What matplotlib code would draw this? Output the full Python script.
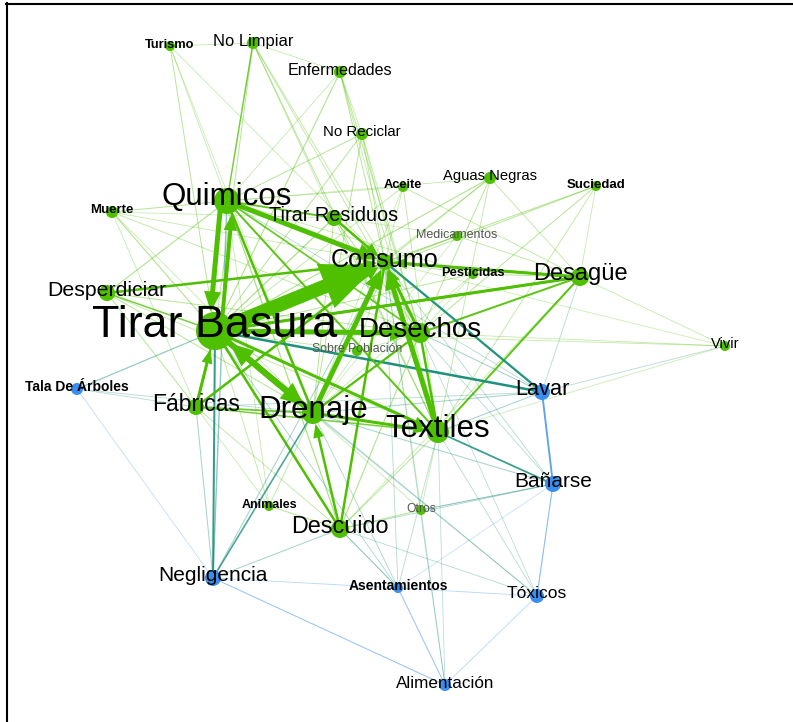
import matplotlib
matplotlib.use("Agg")
import matplotlib.pyplot as plt
import numpy as np

# ---------------- data ----------------
node_names = ["Turismo", "No Limpiar", "Enfermedades", "No Reciclar", "Aceite", "Aguas Negras",
              "Suciedad", "Medicamentos", "Quimicos", "Tirar Residuos", "Muerte", "Consumo",
              "Pesticidas", "Desagüe", "Desperdiciar", "Tirar Basura", "Desechos", "Sobre Población",
              "Vivir", "Tala De Árboles", "Lavar", "Fábricas", "Drenaje", "Textiles", "Bañarse",
              "Animales", "Otros", "Descuido", "Negligencia", "Asentamientos", "Tóxicos", "Alimentación"]
node_x = [170, 253, 340, 362, 403, 490, 596, 457, 227, 334, 112, 385, 473, 580, 107, 215, 420, 357,
          725, 77, 542, 196, 313, 438, 553, 269, 421, 340, 213, 398, 537, 445]
node_y = [46, 43, 72, 134, 187, 178, 186, 236, 201, 218, 212, 262, 274, 277, 293, 331, 333, 351,
          346, 389, 392, 407, 413, 432, 484, 506, 510, 529, 578, 588, 596, 685]
node_radius = [5, 6, 6, 6, 5, 6, 5, 5, 13, 8, 6, 8, 5, 9, 8, 19, 10, 5,
               5, 6, 8, 8, 11, 11, 8, 5, 5, 9, 8, 5, 7, 6]
node_group = ["g", "g", "g", "g", "g", "g", "g", "g", "g", "g", "g", "g", "g", "g", "g", "g", "g", "g",
              "g", "b", "b", "g", "g", "g", "b", "g", "g", "g", "b", "b", "b", "b"]
label_size = [9.3, 11.9, 11.6, 10.8, 9.2, 10.6, 9.5, 9, 22.5, 14.3, 9.5, 18.2, 9.3, 17, 15.3, 32.3, 20, 8.8,
              10.5, 10, 15.7, 16.5, 22.5, 22.5, 15, 9, 8.7, 16.8, 15, 10, 12.5, 12.3]
label_bold = [True, False, False, False, True, False, True, False, False, False, True, False,
              True, False, False, False, False, False, False, True, False, False, False, False,
              False, True, False, False, False, True, False, False]
label_gray = ["Medicamentos", "Sobre Población", "Otros"]

edge_source = [
    # strong (arrowed) links
    "Tirar Basura", "Quimicos", "Tirar Basura", "Quimicos", "Tirar Basura", "Drenaje", "Drenaje",
    "Textiles", "Tirar Basura", "Fábricas", "Desechos", "Desagüe", "Desagüe", "Tirar Basura",
    "Fábricas", "Desperdiciar", "Drenaje", "Descuido", "Descuido", "Quimicos", "Textiles",
    "Desechos", "Tirar Residuos", "Desechos", "Lavar", "Lavar", "Descuido",
    # weaker links
    "Turismo", "Turismo", "Turismo", "Turismo", "Turismo",
    "No Limpiar", "No Limpiar", "No Limpiar", "No Limpiar", "No Limpiar", "No Limpiar", "No Limpiar",
    "Enfermedades", "Enfermedades", "Enfermedades", "Enfermedades", "Enfermedades", "Enfermedades",
    "No Reciclar", "No Reciclar", "No Reciclar", "No Reciclar", "No Reciclar", "No Reciclar",
    "Aceite", "Aceite", "Aceite", "Aceite", "Aceite", "Aceite",
    "Aguas Negras", "Aguas Negras", "Aguas Negras", "Aguas Negras", "Aguas Negras", "Aguas Negras", "Aguas Negras",
    "Suciedad", "Suciedad", "Suciedad", "Suciedad", "Suciedad",
    "Medicamentos", "Medicamentos", "Medicamentos", "Medicamentos", "Medicamentos",
    "Muerte", "Muerte", "Muerte", "Muerte", "Muerte", "Muerte", "Muerte",
    "Desperdiciar", "Desperdiciar", "Desperdiciar", "Desperdiciar", "Desperdiciar", "Desperdiciar",
    "Tirar Residuos", "Tirar Residuos", "Tirar Residuos", "Tirar Residuos", "Tirar Residuos",
    "Pesticidas", "Pesticidas", "Pesticidas", "Pesticidas", "Pesticidas", "Pesticidas",
    "Vivir", "Vivir", "Vivir", "Vivir", "Vivir", "Vivir",
    "Sobre Población", "Sobre Población", "Sobre Población", "Sobre Población",
    "Tala De Árboles", "Tala De Árboles", "Tala De Árboles", "Tala De Árboles",
    "Lavar", "Lavar", "Lavar", "Lavar", "Lavar", "Lavar", "Lavar",
    "Bañarse", "Bañarse", "Bañarse", "Bañarse", "Bañarse", "Bañarse", "Bañarse", "Bañarse", "Bañarse",
    "Animales", "Animales", "Animales", "Animales", "Animales",
    "Otros", "Otros", "Otros", "Otros", "Otros", "Otros",
    "Descuido", "Descuido", "Descuido", "Descuido", "Descuido", "Descuido", "Descuido", "Descuido",
    "Negligencia", "Negligencia", "Negligencia", "Negligencia", "Negligencia", "Negligencia", "Negligencia",
    "Asentamientos", "Asentamientos", "Asentamientos", "Asentamientos", "Asentamientos", "Asentamientos", "Asentamientos",
    "Tóxicos", "Tóxicos", "Tóxicos", "Tóxicos", "Tóxicos", "Tóxicos",
    "Alimentación", "Alimentación", "Alimentación",
    "Quimicos", "Quimicos", "Consumo", "Tirar Basura", "Fábricas", "Fábricas", "Drenaje", "Desechos",
    "Tirar Basura", "Quimicos", "Consumo",
]
edge_target = [
    "Consumo", "Tirar Basura", "Quimicos", "Consumo", "Drenaje", "Tirar Basura", "Consumo",
    "Consumo", "Desechos", "Tirar Basura", "Consumo", "Consumo", "Tirar Basura", "Textiles",
    "Consumo", "Consumo", "Textiles", "Drenaje", "Consumo", "Drenaje", "Desagüe",
    "Desagüe", "Consumo", "Textiles", "Tirar Basura", "Consumo", "Tirar Basura",
    # weaker links
    "No Limpiar", "Tirar Basura", "Consumo", "Quimicos", "Drenaje",
    "Quimicos", "Tirar Basura", "Textiles", "Enfermedades", "Desechos", "Tirar Residuos", "Consumo",
    "Tirar Basura", "Consumo", "Desechos", "Textiles", "Quimicos", "No Reciclar",
    "Quimicos", "Tirar Basura", "Desechos", "Drenaje", "Consumo", "Textiles",
    "Tirar Basura", "Desagüe", "Quimicos", "Drenaje", "Textiles", "Consumo",
    "Tirar Basura", "Consumo", "Desechos", "Desagüe", "Textiles", "Fábricas", "Quimicos",
    "Tirar Basura", "Desechos", "Textiles", "Consumo", "Desagüe",
    "Tirar Basura", "Consumo", "Desagüe", "Quimicos", "Drenaje",
    "Quimicos", "Tirar Basura", "Desechos", "Fábricas", "Drenaje", "Consumo", "Tirar Residuos",
    "Tirar Basura", "Quimicos", "Desechos", "Drenaje", "Fábricas", "Textiles",
    "Tirar Basura", "Quimicos", "Drenaje", "Textiles", "Desechos",
    "Tirar Basura", "Consumo", "Desagüe", "Quimicos", "Drenaje", "Desechos",
    "Desagüe", "Desechos", "Lavar", "Tirar Basura", "Textiles", "Consumo",
    "Tirar Basura", "Consumo", "Desechos", "Drenaje",
    "Tirar Basura", "Fábricas", "Negligencia", "Drenaje",
    "Bañarse", "Textiles", "Drenaje", "Desechos", "Quimicos", "Fábricas", "Desagüe",
    "Textiles", "Tóxicos", "Drenaje", "Descuido", "Otros", "Tirar Basura", "Consumo", "Desechos", "Asentamientos",
    "Descuido", "Tirar Basura", "Drenaje", "Quimicos", "Fábricas",
    "Descuido", "Bañarse", "Consumo", "Textiles", "Drenaje", "Alimentación",
    "Quimicos", "Desechos", "Negligencia", "Asentamientos", "Textiles", "Fábricas", "Desagüe", "Tóxicos",
    "Tirar Basura", "Quimicos", "Drenaje", "Consumo", "Asentamientos", "Alimentación", "Fábricas",
    "Tóxicos", "Alimentación", "Tirar Basura", "Drenaje", "Consumo", "Textiles", "Descuido",
    "Bañarse", "Alimentación", "Tirar Basura", "Drenaje", "Textiles", "Desechos",
    "Negligencia", "Consumo", "Textiles",
    "Desechos", "Textiles", "Desechos", "Fábricas", "Drenaje", "Textiles", "Desechos", "Drenaje",
    "Desagüe", "Tirar Residuos", "Desagüe",
]
edge_weight = [
    14, 5, 4, 5, 6, 6, 5,
    5, 5, 3, 3, 3, 3, 3,
    2.5, 2.5, 3, 2.5, 2, 2, 1.6,
    1.6, 2.5, 2, 2, 1.8, 2,
    # weaker links
    0.6, 0.8, 0.6, 0.6, 0.5,
    1.2, 0.8, 0.8, 0.6, 0.7, 0.6, 0.7,
    0.9, 0.8, 0.8, 0.7, 0.6, 0.6,
    0.8, 0.8, 0.7, 0.8, 0.7, 0.6,
    0.7, 0.7, 0.6, 0.6, 0.7, 0.6,
    0.9, 0.8, 0.8, 0.7, 0.7, 0.6, 0.6,
    0.8, 0.8, 0.7, 0.8, 0.6,
    0.7, 0.6, 0.7, 0.5, 0.5,
    0.8, 0.9, 0.7, 0.6, 0.6, 0.6, 0.5,
    1.2, 0.9, 0.8, 0.8, 0.8, 0.7,
    1.0, 1.0, 0.8, 0.8, 0.8,
    0.8, 0.8, 0.8, 0.6, 0.6, 0.6,
    0.6, 0.6, 0.6, 0.6, 0.5, 0.5,
    0.7, 0.7, 0.6, 0.6,
    1.0, 0.6, 0.6, 0.6,
    1.5, 0.8, 0.8, 0.8, 0.6, 0.6, 0.6,
    1.4, 0.8, 0.8, 0.7, 0.6, 0.7, 0.6, 0.6, 0.5,
    0.8, 0.7, 0.7, 0.6, 0.6,
    0.8, 0.7, 0.6, 0.6, 0.6, 0.5,
    1.0, 0.9, 0.8, 0.7, 0.8, 0.7, 0.6, 0.6,
    1.6, 1.1, 1.3, 0.8, 0.7, 0.7, 0.8,
    0.7, 1.0, 0.7, 0.7, 0.6, 0.6, 0.6,
    0.8, 0.7, 0.7, 0.6, 0.6, 0.5,
    0.7, 0.6, 0.5,
    1.4, 1.6, 1.6, 1.8, 1.4, 1.2, 1.4, 1.6,
    1.8, 1.4, 1.8,
]
parallel_pairs = [("Quimicos", "Tirar Basura")]

# ---------------- drawing ----------------
GREEN = np.array([78, 192, 0]) / 255
BLUE = np.array([58, 142, 240]) / 255
TEAL = np.array([30, 145, 125]) / 255
LBLUE = np.array([70, 150, 235]) / 255

idx = {n: i for i, n in enumerate(node_names)}

fig = plt.figure(figsize=(7.93, 7.22), dpi=100)
ax = fig.add_axes([0, 0, 1, 1])
ax.set_xlim(0, 793)
ax.set_ylim(722, 0)
ax.axis("off")

def edge_color(a, b):
    ga, gb = node_group[idx[a]], node_group[idx[b]]
    if ga == "g" and gb == "g":
        return GREEN
    if ga == "b" and gb == "b":
        return LBLUE
    return TEAL

for s, t, w in zip(edge_source, edge_target, edge_weight):
    i, j = idx[s], idx[t]
    p0 = np.array([node_x[i], node_y[i]], float)
    p1 = np.array([node_x[j], node_y[j]], float)
    d = p1 - p0
    L = np.hypot(*d)
    u = d / L
    perp = np.array([-u[1], u[0]])
    off = 0.0
    if (s, t) in parallel_pairs or (t, s) in parallel_pairs:
        off = 6.0
    p0o = p0 + perp * off
    p1o = p1 + perp * off
    col = edge_color(s, t)
    if w >= 2.5:
        start = p0o
        end = p1o - u * node_radius[j]
        dd = end - start
        hw = max(3.4 * w, 11)
        hl = max(4.0 * w, 14)
        ax.arrow(start[0], start[1], dd[0], dd[1], width=w, head_width=hw, head_length=hl,
                 length_includes_head=True, color=col, lw=0, zorder=2)
    else:
        if w >= 1.2:
            alpha = min(1.0, 0.35 + 0.35 * w)
        else:
            alpha = 0.12 + 0.35 * w
        ax.plot([p0o[0], p1o[0]], [p0o[1], p1o[1]], color=col, alpha=alpha,
                lw=max(0.6, w * 0.9), solid_capstyle="round", zorder=1)

for i, n in enumerate(node_names):
    c = GREEN if node_group[i] == "g" else BLUE
    ax.add_patch(plt.Circle((node_x[i], node_y[i]), node_radius[i], color=c, zorder=3, lw=0))

for i, n in enumerate(node_names):
    col = "#555555" if n in label_gray else "black"
    ax.text(node_x[i], node_y[i] - node_radius[i] * 0.3, n, ha="center", va="center",
            fontsize=label_size[i], family=["Liberation Sans", "DejaVu Sans"],
            fontweight="bold" if label_bold[i] else "normal", color=col, zorder=4)

# frame (top and left borders of the original screenshot)
ax.plot([6, 793], [3.5, 3.5], color="black", lw=1.5, zorder=5)
ax.plot([6.5, 6.5], [3, 722], color="black", lw=1.5, zorder=5)

fig.savefig("out.png", dpi=100)
